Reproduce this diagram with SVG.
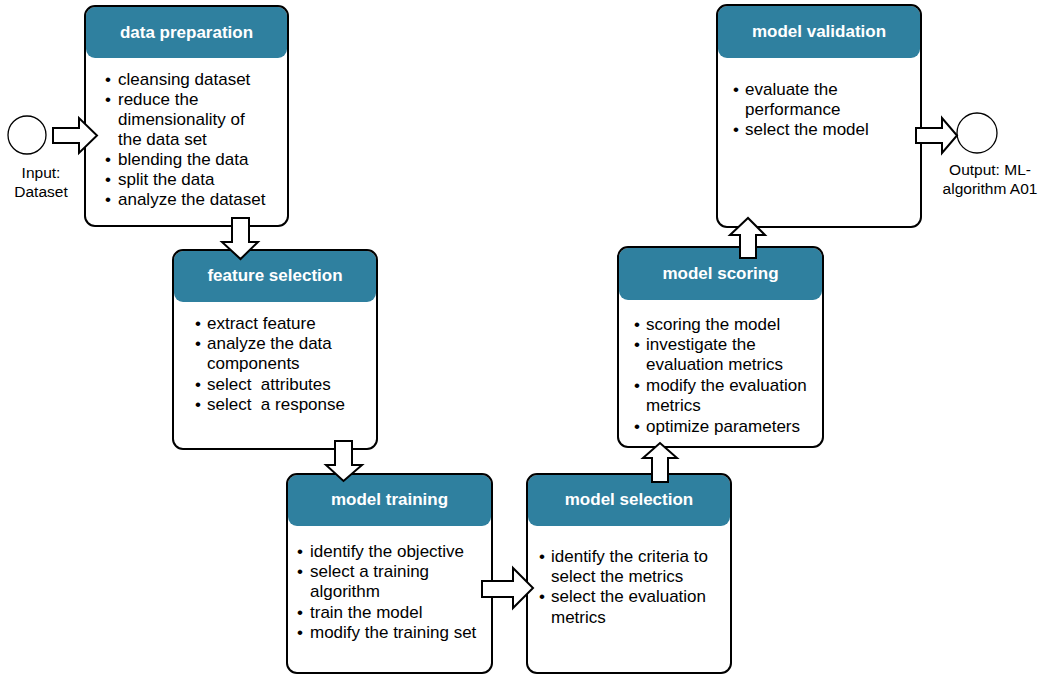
<svg xmlns="http://www.w3.org/2000/svg" width="1044" height="674" viewBox="0 0 1044 674">
<style>
.box{fill:#ffffff;stroke:none}
.outline{fill:none;stroke:#000000;stroke-width:2}
.hdr{fill:#2F809F}
.ht{font-family:"Liberation Sans",Arial,sans-serif;font-size:17px;font-weight:bold;fill:#ffffff;text-anchor:middle}
.bt{font-family:"Liberation Sans",Arial,sans-serif;font-size:17px;fill:#000000}
.lbl{font-family:"Liberation Sans",Arial,sans-serif;font-size:15.5px;fill:#000000;text-anchor:middle}
.arr{fill:#ffffff;stroke:#000000;stroke-width:2;stroke-linejoin:miter}
.circ{fill:#ffffff;stroke:#000000;stroke-width:1.3}
</style>
<rect width="1044" height="674" fill="#ffffff"/>

<g id="input">
<circle class="circ" cx="27" cy="135" r="19"/>
<text class="lbl" x="41" y="178">Input:</text>
<text class="lbl" x="41" y="197">Dataset</text>
</g>

<g id="data-preparation">
<rect class="box" x="85" y="6" width="203" height="220" rx="10"/>
<rect class="hdr" x="86" y="7" width="201" height="51" rx="9"/>
<rect class="outline" x="85" y="6" width="203" height="220" rx="10"/>
<text class="ht" x="186.5" y="38">data preparation</text>
<text class="bt">
<tspan x="105" y="85">•</tspan><tspan x="118" y="85">cleansing dataset</tspan>
<tspan x="105" y="105">•</tspan><tspan x="118" y="105">reduce the</tspan>
<tspan x="118" y="125">dimensionality of</tspan>
<tspan x="118" y="145">the data set</tspan>
<tspan x="105" y="165">•</tspan><tspan x="118" y="165">blending the data</tspan>
<tspan x="105" y="185">•</tspan><tspan x="118" y="185">split the data</tspan>
<tspan x="105" y="205">•</tspan><tspan x="118" y="205">analyze the dataset</tspan>
</text>
</g>

<g id="feature-selection">
<rect class="box" x="173" y="250" width="204" height="199" rx="10"/>
<rect class="hdr" x="174" y="251" width="202" height="51" rx="9"/>
<rect class="outline" x="173" y="250" width="204" height="199" rx="10"/>
<text class="ht" x="275" y="281">feature selection</text>
<text class="bt">
<tspan x="195" y="329">•</tspan><tspan x="207" y="329">extract feature</tspan>
<tspan x="195" y="349">•</tspan><tspan x="207" y="349">analyze the data</tspan>
<tspan x="207" y="369">components</tspan>
<tspan x="195" y="390">•</tspan><tspan x="207" y="390">select&#160; attributes</tspan>
<tspan x="195" y="410">•</tspan><tspan x="207" y="410">select&#160; a response</tspan>
</text>
</g>

<g id="model-training">
<rect class="box" x="287" y="474" width="205" height="199" rx="10"/>
<rect class="hdr" x="288" y="475" width="203" height="51" rx="9"/>
<rect class="outline" x="287" y="474" width="205" height="199" rx="10"/>
<text class="ht" x="389.5" y="505">model training</text>
<text class="bt">
<tspan x="297" y="557">•</tspan><tspan x="310" y="557">identify the objective</tspan>
<tspan x="297" y="577">•</tspan><tspan x="310" y="577">select a training</tspan>
<tspan x="310" y="597">algorithm</tspan>
<tspan x="297" y="618">•</tspan><tspan x="310" y="618">train the model</tspan>
<tspan x="297" y="638">•</tspan><tspan x="310" y="638">modify the training set</tspan>
</text>
</g>

<g id="model-selection">
<rect class="box" x="527" y="474" width="204" height="199" rx="10"/>
<rect class="hdr" x="528" y="475" width="202" height="51" rx="9"/>
<rect class="outline" x="527" y="474" width="204" height="199" rx="10"/>
<text class="ht" x="629" y="505">model selection</text>
<text class="bt">
<tspan x="539" y="562">•</tspan><tspan x="551" y="562">identify the criteria to</tspan>
<tspan x="551" y="582">select the metrics</tspan>
<tspan x="539" y="602">•</tspan><tspan x="551" y="602">select the evaluation</tspan>
<tspan x="551" y="623">metrics</tspan>
</text>
</g>

<g id="model-scoring">
<rect class="box" x="618" y="247" width="205" height="200" rx="10"/>
<rect class="hdr" x="619" y="248" width="203" height="52" rx="9"/>
<rect class="outline" x="618" y="247" width="205" height="200" rx="10"/>
<text class="ht" x="720.5" y="279">model scoring</text>
<text class="bt">
<tspan x="634" y="330">•</tspan><tspan x="646" y="330">scoring the model</tspan>
<tspan x="634" y="350">•</tspan><tspan x="646" y="350">investigate the</tspan>
<tspan x="646" y="370">evaluation metrics</tspan>
<tspan x="634" y="391">•</tspan><tspan x="646" y="391">modify the evaluation</tspan>
<tspan x="646" y="411">metrics</tspan>
<tspan x="634" y="432">•</tspan><tspan x="646" y="432">optimize parameters</tspan>
</text>
</g>

<g id="model-validation">
<rect class="box" x="717" y="5" width="204" height="222" rx="10"/>
<rect class="hdr" x="718" y="6" width="202" height="52" rx="9"/>
<rect class="outline" x="717" y="5" width="204" height="222" rx="10"/>
<text class="ht" x="819" y="37">model validation</text>
<text class="bt">
<tspan x="733" y="95">•</tspan><tspan x="745" y="95">evaluate the</tspan>
<tspan x="745" y="115">performance</tspan>
<tspan x="733" y="135">•</tspan><tspan x="745" y="135">select the model</tspan>
</text>
</g>

<g id="output">
<circle class="circ" cx="977" cy="133" r="20"/>
<text class="lbl" x="990" y="175">Output: ML-</text>
<text class="lbl" x="990" y="194">algorithm A01</text>
</g>

<g id="connectors">
<polygon class="arr" points="53,128 79,128 79,118 97,135.5 79,153 79,143 53,143"/>
<polygon class="arr" points="232,218 249,218 249,242 258,242 240.5,259 222,242 232,242"/>
<polygon class="arr" points="335,441 352,441 352,465 362,465 343.5,481 326,465 335,465"/>
<polygon class="arr" points="482,581 513,581 513,568 533,588 513,608 513,597 482,597"/>
<polygon class="arr" points="652,482 652,458 643,458 660,443 677,458 668,458 668,482"/>
<polygon class="arr" points="740,258 740,235 730,235 748,218 765,235 756,235 756,258"/>
<polygon class="arr" points="916,128 942,128 942,118 957,135.5 942,153 942,143 916,143"/>
</g>
</svg>
